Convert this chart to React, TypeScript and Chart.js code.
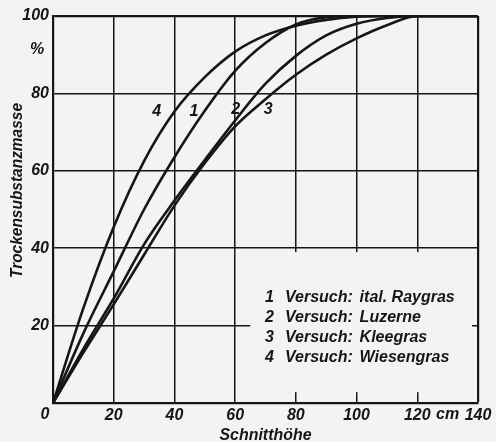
import React, { useEffect, useRef } from 'react';
import { Chart, registerables } from 'chart.js';

Chart.register(...registerables);

// Schnitthöhe (cm)
const heights = [0, 10, 20, 30, 40, 50, 60, 70, 80, 90, 100, 110, 120, 130, 140];
// Trockensubstanzmasse (%) per Versuch
const raygras = [0, 18, 34, 50, 63.5, 75.5, 85.8, 93, 97.8, 99.7, 100, 100, 100, 100, 100];
const luzerne = [0, 14, 27, 41, 52.3, 62.8, 73, 82.5, 89.7, 95, 98, 99.5, 100, 100, 100];
const kleegras = [0, 13, 25.5, 38.3, 51, 62, 71.5, 78.5, 84.8, 90, 94.2, 97.6, 100, 100, 100];
const wiesengras = [0, 24.5, 45.5, 62.5, 75.3, 84.2, 90.8, 95, 97.5, 99, 99.8, 100, 100, 100, 100];

const seriesNumbers = ['1', '2', '3', '4'];
const seriesNames = ['ital. Raygras', 'Luzerne', 'Kleegras', 'Wiesengras'];
const xTickStep = 20;
const yTickStep = 20;
const xUnit = 'cm';
const yUnit = '%';
const xTitle = 'Schnitthöhe';
const yTitle = 'Trockensubstanzmasse';

export default function App() {
  const ref = useRef<HTMLCanvasElement>(null);

  useEffect(() => {
    const canvas = ref.current;
    if (!canvas) return;
    const ink = '#161616';
    const paper = '#f3f3f3';
    const family = '"Liberation Sans", Arial, sans-serif';
    const narrow = '"Liberation Sans Narrow", "Liberation Sans", Arial, sans-serif';
    const textFont = `italic bold 16px ${family}`;

    const pts = (ys: number[]) => heights.map((x, i) => ({ x, y: ys[i] }));
    const all = [raygras, luzerne, kleegras, wiesengras];

    // annotation placement (data units)
    const curveLabelAt = [
      [46.4, 75.3],
      [60.2, 75.7],
      [70.9, 75.7],
      [34.2, 75.3],
    ];
    const legendRowsY = [26.1, 20.9, 15.8, 10.6];

    const fitted = (
      c: CanvasRenderingContext2D,
      text: string,
      cx: number,
      cy: number,
      w: number,
      rot: number,
      font: string,
      baseline: CanvasTextBaseline
    ) => {
      c.save();
      c.font = font;
      const m = c.measureText(text).width;
      c.translate(cx, cy);
      c.rotate(rot);
      c.scale(w / m, 1);
      c.textAlign = 'center';
      c.textBaseline = baseline;
      c.fillText(text, 0, 0);
      c.restore();
    };

    const decor = {
      id: 'decor',
      beforeDraw(chart: any) {
        const c = chart.ctx;
        c.save();
        c.fillStyle = paper;
        c.fillRect(0, 0, chart.width, chart.height);
        c.restore();
      },
      beforeDatasetsDraw(chart: any) {
        const c = chart.ctx;
        const sx = chart.scales.x;
        const sy = chart.scales.y;
        const l = sx.getPixelForValue(65);
        const r = sx.getPixelForValue(138);
        const t = sy.getPixelForValue(39);
        const b = sy.getPixelForValue(2.8);
        c.save();
        c.fillStyle = paper;
        c.fillRect(l, t, r - l, b - t);
        c.restore();
      },
      afterDraw(chart: any) {
        const c = chart.ctx;
        const sx = chart.scales.x;
        const sy = chart.scales.y;
        c.save();
        c.fillStyle = ink;
        c.font = textFont;
        c.textAlign = 'center';
        c.textBaseline = 'middle';
        // curve numbers
        curveLabelAt.forEach((p, i) => {
          c.fillText(seriesNumbers[i], sx.getPixelForValue(p[0]), sy.getPixelForValue(p[1]));
        });
        // x axis 0 and unit
        c.font = `italic bold 16px ${narrow}`;
        const tickY = sy.getPixelForValue(0) + 12;
        c.fillText('0', sx.getPixelForValue(0) - 8, tickY);
        c.font = textFont;
        c.fillText(xUnit, (sx.getPixelForValue(120) + sx.getPixelForValue(140)) / 2 + 0, tickY);
        // y unit
        c.fillText(yUnit, sx.getPixelForValue(0) - 16, sy.getPixelForValue(100) + 34);
        // legend text
        c.textAlign = 'left';
        c.textBaseline = 'alphabetic';
        legendRowsY.forEach((yv, i) => {
          const y = sy.getPixelForValue(yv);
          c.fillText(seriesNumbers[i], sx.getPixelForValue(69.8), y);
          c.fillText('Versuch:', sx.getPixelForValue(76.4), y);
          c.fillText(seriesNames[i], sx.getPixelForValue(101), y);
        });
        c.restore();
        // axis titles
        c.fillStyle = ink;
        fitted(c, xTitle, (sx.left + sx.right) / 2, chart.height - 2, 92, 0, `italic bold 17px ${family}`, 'alphabetic');
        fitted(c, yTitle, 18, (sy.top + sy.bottom) / 2 - 19, 175, -Math.PI / 2, `italic bold 16px ${family}`, 'middle');
      },
    };

    const tickFont = { family: narrow, size: 16, style: 'italic' as const, weight: 'bold' as const };

    const chart = new Chart(canvas, {
      type: 'line',
      data: {
        datasets: all.map((ys, i) => ({
          label: seriesNames[i],
          data: pts(ys),
          borderColor: ink,
          borderWidth: 2.6,
          pointRadius: 0,
          cubicInterpolationMode: 'monotone' as const,
          fill: false,
        })),
      },
      options: {
        responsive: false,
        animation: false,
        devicePixelRatio: 1,
        layout: { padding: { left: 0, top: 16, right: 18, bottom: 0 } },
        plugins: { legend: { display: false }, tooltip: { enabled: false } },
        scales: {
          x: {
            type: 'linear',
            min: 0,
            max: 140,
            afterFit: (s: any) => {
              s.height = 39;
            },
            ticks: {
              stepSize: xTickStep,
              autoSkip: false,
              maxRotation: 0,
              padding: 3,
              color: ink,
              font: tickFont,
              callback: (v: any) => (v === 0 ? '' : String(v)),
            },
            grid: {
              color: ink,
              lineWidth: (ctx: any) => (ctx.tick && ctx.tick.value === 140 ? 2.2 : 1.5),
              drawTicks: false,
            },
            border: { display: true, color: ink, width: 2.2 },
          },
          y: {
            type: 'linear',
            min: 0,
            max: 100,
            afterFit: (s: any) => {
              s.width = 53;
            },
            ticks: {
              stepSize: yTickStep,
              padding: 4,
              color: ink,
              font: tickFont,
              callback: (v: any) => (v === 0 ? '' : String(v)),
            },
            grid: {
              color: ink,
              lineWidth: (ctx: any) => (ctx.tick && ctx.tick.value === 100 ? 2.2 : 1.5),
              drawTicks: false,
            },
            border: { display: true, color: ink, width: 2.2 },
          },
        },
      },
      plugins: [decor],
    });
    return () => chart.destroy();
  }, []);

  return (
    <div style={{ position: 'fixed', left: 0, top: 0, width: 496, height: 442, background: '#f3f3f3' }}>
      <canvas ref={ref} width={496} height={442} style={{ display: 'block', width: 496, height: 442 }} />
    </div>
  );
}
